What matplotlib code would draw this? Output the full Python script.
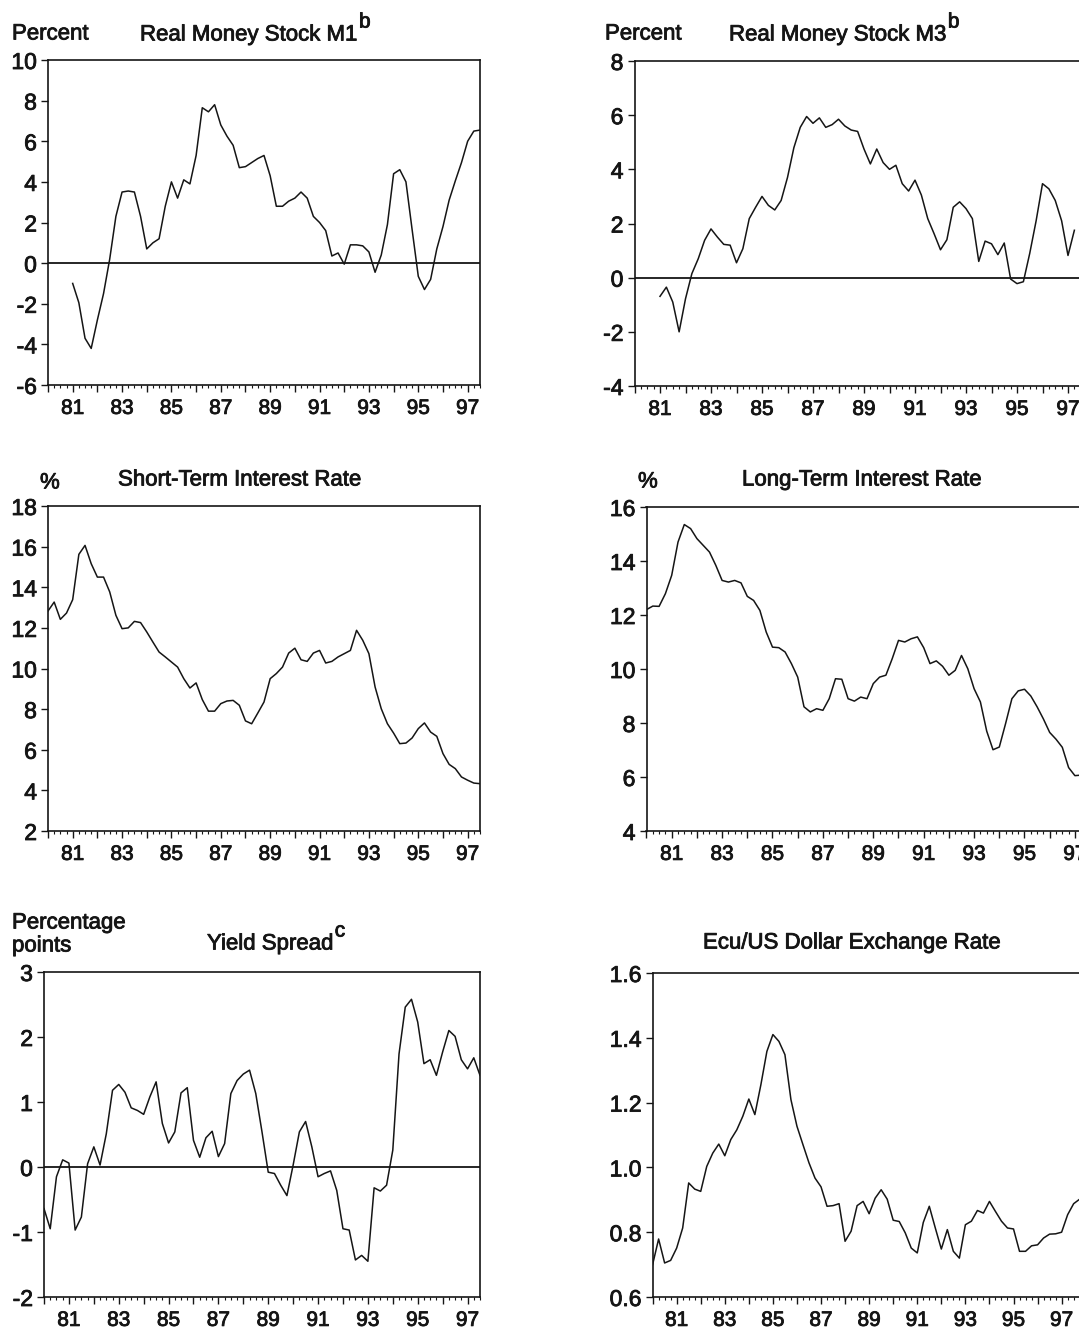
import matplotlib.pyplot as plt
import matplotlib.patheffects as pe
from matplotlib.ticker import FixedLocator, MultipleLocator, FuncFormatter

plt.rcParams['font.family'] = ['Liberation Sans', 'DejaVu Sans']

START_YEAR = 1980
INK = '#151515'
HEAVY = [pe.withStroke(linewidth=0.6, foreground=INK)]

# quarterly data, first value belongs to quarter index given in *_start (0 = 1980Q1)
m1_start = 4
m1_growth = [-1.0, -1.95, -3.7, -4.2, -2.8, -1.5, 0.2, 2.3, 3.5, 3.55, 3.5, 2.3, 0.7, 1.0, 1.2,
             2.8, 4.0, 3.2, 4.1, 3.9, 5.3, 7.65, 7.45, 7.8, 6.8, 6.25, 5.8, 4.7, 4.75, 4.95,
             5.15, 5.3, 4.3, 2.8, 2.8, 3.05, 3.2, 3.5, 3.2, 2.3, 2.0, 1.6, 0.35, 0.5, -0.05,
             0.9, 0.9, 0.85, 0.55, -0.45, 0.4, 1.9, 4.4, 4.6, 4.0, 1.65, -0.65, -1.3, -0.8,
             0.7, 1.8, 3.1, 4.05, 4.95, 6.0, 6.5, 6.55]

m3_start = 4
m3_growth = [-0.69, -0.35, -0.9, -2.0, -0.78, 0.15, 0.7, 1.38, 1.8, 1.5, 1.23, 1.2, 0.55, 1.07,
             2.18, 2.6, 3.0, 2.67, 2.5, 2.85, 3.7, 4.8, 5.55, 5.95, 5.7, 5.9, 5.55, 5.65, 5.85,
             5.6, 5.45, 5.4, 4.75, 4.2, 4.75, 4.25, 4.0, 4.15, 3.47, 3.2, 3.6, 3.05, 2.18, 1.62,
             1.03, 1.4, 2.6, 2.8, 2.55, 2.18, 0.6, 1.35, 1.25, 0.85, 1.28, -0.05, -0.22, -0.15,
             0.9, 2.1, 3.47, 3.28, 2.85, 2.1, 0.82, 1.75]

short_start = 0
short_rate = [12.83, 13.27, 12.42, 12.73, 13.39, 15.62, 16.06, 15.16, 14.5, 14.5, 13.77, 12.62,
              11.96, 12.0, 12.32, 12.26, 11.8, 11.3, 10.81, 10.57, 10.32, 10.07, 9.5, 9.04,
              9.29, 8.47, 7.9, 7.9, 8.27, 8.4, 8.43, 8.19, 7.42, 7.28, 7.81, 8.35, 9.5, 9.75,
              10.07, 10.76, 11.0, 10.43, 10.35, 10.76, 10.89, 10.27, 10.35, 10.57, 10.73,
              10.89, 11.88, 11.39, 10.73, 9.09, 8.02, 7.28, 6.82, 6.3, 6.33, 6.58, 7.04, 7.32,
              6.87, 6.66, 5.81, 5.28, 5.07, 4.66, 4.5, 4.36, 4.33]

long_start = 0
long_rate = [12.2, 12.33, 12.32, 12.79, 13.47, 14.7, 15.35, 15.2, 14.83, 14.58, 14.33, 13.84,
             13.28, 13.22, 13.28, 13.19, 12.69, 12.54, 12.17, 11.37, 10.81, 10.79, 10.63, 10.2,
             9.7, 8.6, 8.41, 8.53, 8.47, 8.9, 9.64, 9.62, 8.9, 8.81, 8.96, 8.9, 9.46, 9.7, 9.77,
             10.38, 11.06, 11.0, 11.12, 11.19, 10.79, 10.2, 10.3, 10.1, 9.77, 9.95, 10.5, 10.01,
             9.27, 8.78, 7.7, 7.01, 7.11, 7.98, 8.9, 9.19, 9.25, 9.0, 8.6, 8.15, 7.65, 7.4, 7.1,
             6.35, 6.05, 6.07, 5.85]

spread_start = 0
yield_spread = [-0.64, -0.95, -0.15, 0.11, 0.06, -0.97, -0.77, 0.05, 0.31, 0.03, 0.51, 1.18,
                1.27, 1.15, 0.91, 0.87, 0.81, 1.08, 1.31, 0.67, 0.37, 0.54, 1.14, 1.22, 0.41,
                0.15, 0.45, 0.55, 0.16, 0.36, 1.13, 1.33, 1.43, 1.49, 1.13, 0.54, -0.08, -0.1,
                -0.28, -0.44, 0.03, 0.54, 0.7, 0.31, -0.15, -0.1, -0.06, -0.36, -0.95, -0.97,
                -1.43, -1.36, -1.45, -0.32, -0.37, -0.28, 0.26, 1.74, 2.46, 2.58, 2.23, 1.59,
                1.65, 1.41, 1.77, 2.1, 2.01, 1.65, 1.51, 1.68, 1.41]

ecu_start = 0
ecu_usd = [0.70, 0.779, 0.705, 0.713, 0.751, 0.813, 0.952, 0.933, 0.926, 1.003, 1.044, 1.072,
           1.036, 1.086, 1.116, 1.158, 1.211, 1.163, 1.255, 1.358, 1.41, 1.389, 1.348, 1.209,
           1.127, 1.07, 1.014, 0.967, 0.94, 0.88, 0.882, 0.888, 0.772, 0.803, 0.882, 0.895,
           0.857, 0.905, 0.931, 0.902, 0.837, 0.833, 0.798, 0.751, 0.736, 0.83, 0.88, 0.813,
           0.748, 0.808, 0.741, 0.72, 0.823, 0.834, 0.867, 0.859, 0.895, 0.864, 0.834, 0.813,
           0.81, 0.741, 0.741, 0.758, 0.761, 0.782, 0.794, 0.795, 0.8, 0.854, 0.888, 0.902]

W, H = 1079, 1329
fig = plt.figure(figsize=(W / 100, H / 100), dpi=100)
fig.patch.set_facecolor('white')


def px_axes(left, top, right, bottom):
    return fig.add_axes([left / W, 1 - bottom / H, (right - left) / W, (bottom - top) / H])


def quarters(start, values):
    return [START_YEAR + (start + i) / 4 for i in range(len(values))]


def year_label(v, pos):
    y = int(round(v))
    return f"{y % 100:02d}" if y % 2 == 1 else ""


def style(ax, ylim, yticks, ylabels, x_end=1998, zero_line=False):
    ax.set_xlim(START_YEAR, x_end)
    ax.set_ylim(*ylim)
    ax.xaxis.set_major_locator(FixedLocator(range(1980, 1998)))
    ax.xaxis.set_major_formatter(FuncFormatter(year_label))
    ax.xaxis.set_minor_locator(MultipleLocator(0.25))
    ax.set_yticks(yticks)
    ax.set_yticklabels(ylabels)
    ax.tick_params(axis='x', which='major', direction='out', length=5, width=1.0,
                   labelsize=15, pad=5, colors=INK)
    ax.tick_params(axis='x', which='minor', direction='out', length=2.5, width=0.8, colors=INK)
    ax.tick_params(axis='y', direction='out', length=5, width=1.0, labelsize=16.5,
                   pad=3, colors=INK)
    plt.setp(ax.get_xticklabels() + ax.get_yticklabels(), path_effects=HEAVY)
    for s in ax.spines.values():
        s.set_linewidth(1.2)
        s.set_color(INK)
    if zero_line:
        ax.axhline(0, color=INK, lw=1.3)


def text_px(x, y, s, size=16, **kw):
    return fig.text(x / W, 1 - y / H, s, ha='left', va='center', fontsize=size, color=INK,
                    path_effects=HEAVY, **kw)


def title_with_sup(x, y, s, sup):
    t = text_px(x, y, s)
    bb = t.get_window_extent(renderer=fig.canvas.get_renderer())
    text_px(bb.x1 + 1, y - 13, sup, size=15)


def draw_series(ax, start, values):
    ax.plot(quarters(start, values), values, color=INK, lw=1.1)


# Real Money Stock M1
ax1 = px_axes(48, 60, 480, 385)
draw_series(ax1, m1_start, m1_growth)
style(ax1, (-6, 10), range(-6, 11, 2), [str(v) for v in range(-6, 11, 2)],
      x_end=1997.5, zero_line=True)

# Real Money Stock M3 (cut at the right border)
ax2 = px_axes(634.5, 61, 634.5 + 18 * 25.5, 386)
draw_series(ax2, m3_start, m3_growth)
style(ax2, (-4, 8), range(-4, 9, 2), [str(v) for v in range(-4, 9, 2)], zero_line=True)

# Short-term interest rate
ax3 = px_axes(48, 506, 480, 831)
draw_series(ax3, short_start, short_rate)
style(ax3, (2, 18), range(2, 19, 2), [str(v) for v in range(2, 19, 2)], x_end=1997.5)

# Long-term interest rate
ax4 = px_axes(646.5, 507, 646.5 + 18 * 25.2, 831)
draw_series(ax4, long_start, long_rate)
style(ax4, (4, 16), range(4, 17, 2), [str(v) for v in range(4, 17, 2)])

# Yield spread
ax5 = px_axes(44, 972, 480, 1297)
draw_series(ax5, spread_start, yield_spread)
style(ax5, (-2, 3), range(-2, 4), [str(v) for v in range(-2, 4)], x_end=1997.5, zero_line=True)

# Ecu / US dollar
ax6 = px_axes(652.6, 973, 652.6 + 18 * 24.06, 1297)
draw_series(ax6, ecu_start, ecu_usd)
ecu_ticks = [0.6, 0.8, 1.0, 1.2, 1.4, 1.6]
style(ax6, (0.6, 1.6), ecu_ticks, [f"{v:.1f}" for v in ecu_ticks])

# headings
text_px(12, 34, "Percent")
title_with_sup(140, 35, "Real Money Stock M1", "b")
text_px(605, 34, "Percent")
title_with_sup(729, 35, "Real Money Stock M3", "b")
text_px(40, 483, "%")
text_px(118, 480, "Short-Term Interest Rate")
text_px(638, 482, "%")
text_px(742, 480, "Long-Term Interest Rate")
text_px(12, 923, "Percentage")
text_px(12, 946, "points")
title_with_sup(207, 944, "Yield Spread", "c")
text_px(703, 943, "Ecu/US Dollar Exchange Rate")

fig.savefig("out.png", dpi=100)
